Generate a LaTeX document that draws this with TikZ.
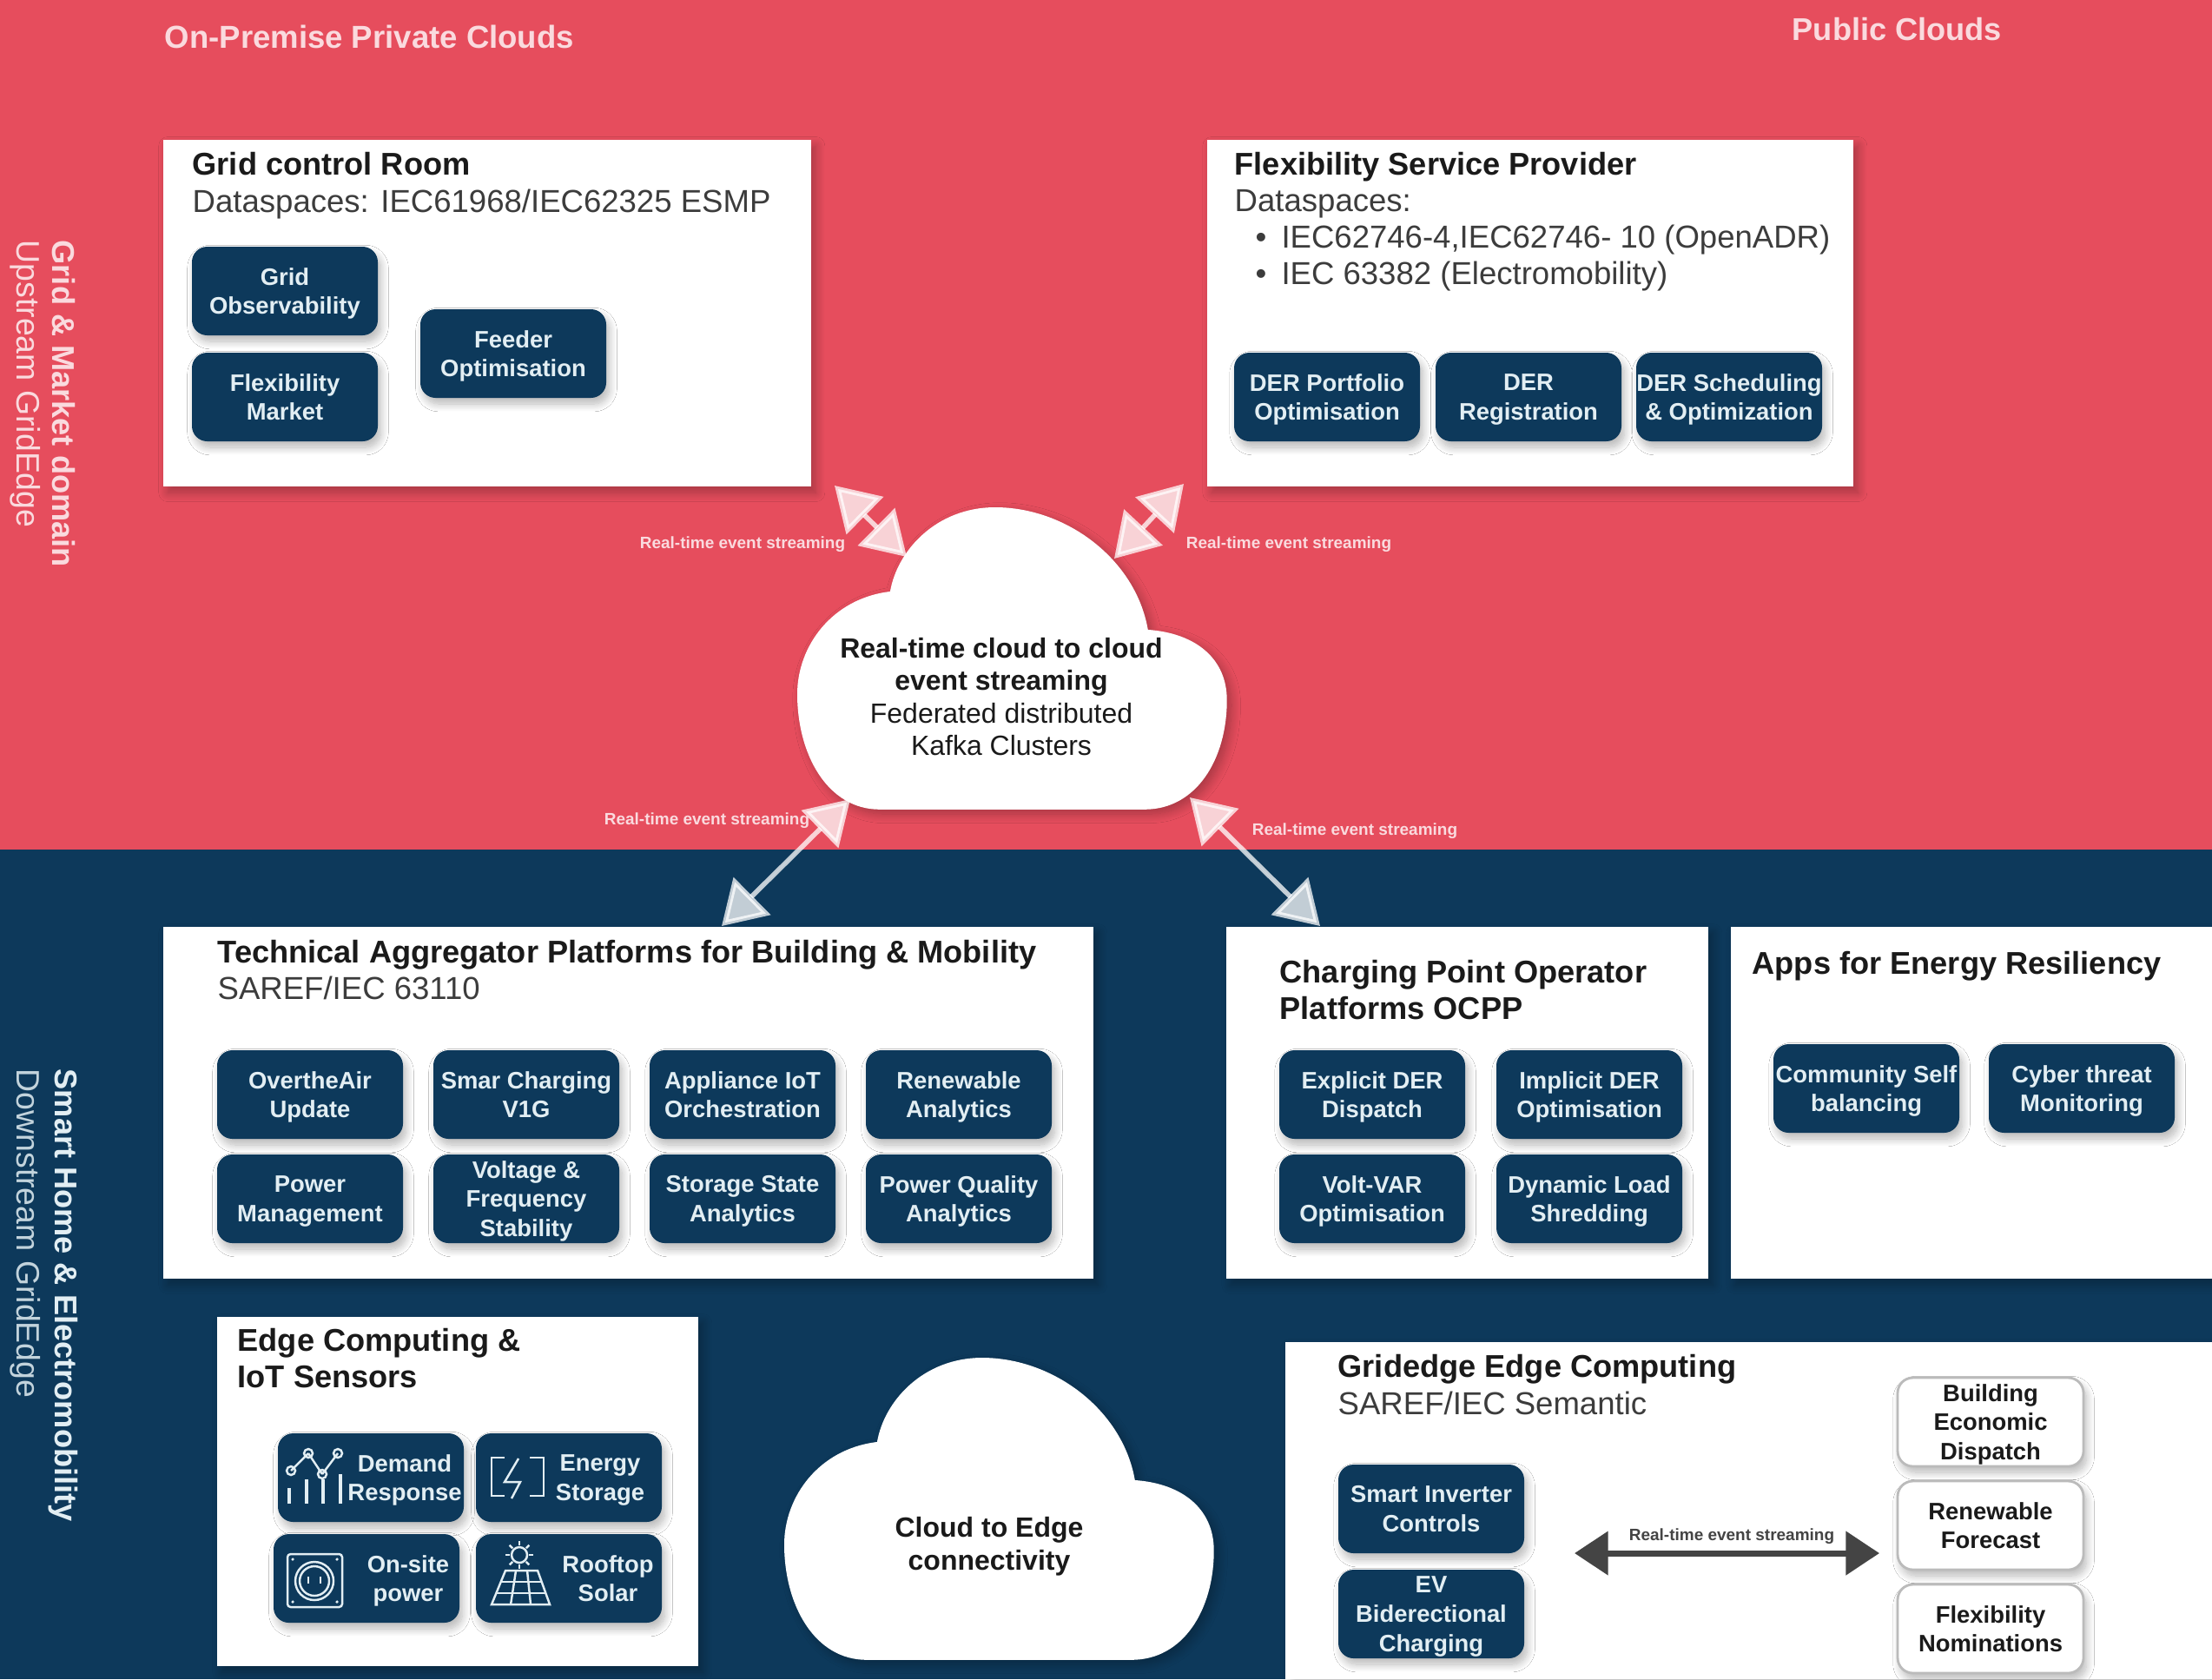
\documentclass[tikz,border=0pt]{standalone}
\usepackage{fontspec}
\setmainfont{Liberation Sans}
\setsansfont{Liberation Sans}
\usepackage{xcolor}
\usepackage{tikz}
\usetikzlibrary{positioning,arrows.meta,calc,shadows.blur}
\definecolor{red1}{HTML}{E64D5D}
\definecolor{navy1}{HTML}{0D395B}
\definecolor{ink1}{HTML}{1A1A1A}
\definecolor{gray1}{HTML}{3C3C3C}
\definecolor{pale1}{HTML}{E2EEF3}
\definecolor{rose1}{HTML}{FADADE}
\definecolor{arrow1}{HTML}{444444}
\newcommand{\cloudfill}[2]{%
  \fill[white, shift={(#1,#2)}, x=0.01cm, y=-0.01cm,
        blur shadow={shadow blur steps=12, shadow xshift=1.5pt,
        shadow yshift=-1.5pt, shadow blur radius=3pt, shadow opacity=28}]
    (95,348) -- (400,348)
    .. controls (460,348) and (495,290) .. (495,222)
    .. controls (495,175) and (460,145) .. (404,141)
    .. controls (390,60) and (310,0) .. (228,0)
    .. controls (160,0) and (115,50) .. (107,97)
    .. controls (40,105) and (0,160) .. (0,215)
    .. controls (0,285) and (35,348) .. (95,348) -- cycle;}

\begin{document}
\begin{tikzpicture}[
    panel/.style={fill=white, anchor=north west, outer sep=0pt,
                  blur shadow={shadow blur steps=12, shadow xshift=1.5pt,
                  shadow yshift=-2pt, shadow blur radius=3pt, shadow opacity=28}},
    comp/.style={fill=navy1, text=pale1, rounded corners=5pt, outer sep=0pt,
                 inner sep=0pt, minimum width=2.14cm, minimum height=1.02cm,
                 align=center, text depth=0pt,
                 font=\sffamily\bfseries\fontsize{7.8}{9.6}\selectfont,
                 blur shadow={shadow blur steps=12, shadow xshift=1pt,
                 shadow yshift=-2pt, shadow blur radius=2.5pt, shadow opacity=28}},
    ghost/.style={comp, fill=white, text=ink1, draw=gray1!35, line width=0.8pt},
    compfree/.style={text=pale1, align=center, inner sep=0pt, text depth=0pt,
                 font=\sffamily\bfseries\fontsize{7.8}{9.6}\selectfont},
    heading/.style={anchor=west, inner sep=0pt, align=left, text=ink1, text depth=0pt,
                    font=\sffamily\bfseries\fontsize{10.3}{12}\selectfont},
    subhead/.style={anchor=west, inner sep=0pt, align=left, text=gray1, text depth=0pt,
                    font=\sffamily\fontsize{10.4}{12}\selectfont},
    band/.style={rotate=-90, anchor=west, inner sep=0pt,
                 font=\sffamily\bfseries\fontsize{10.3}{12}\selectfont},
    bandsub/.style={band, font=\sffamily\fontsize{10.65}{12}\selectfont},
    cloudtext/.style={align=center, inner sep=0pt, text=ink1,
                 font=\sffamily\fontsize{9.1}{10.7}\selectfont},
    tag/.style={inner sep=0pt, text=rose1,
                font=\sffamily\bfseries\fontsize{5.4}{6}\selectfont},
    stream/.style={{Triangle[length=14pt,width=17pt]}-{Triangle[length=14pt,width=17pt]},
                   line width=1.6pt, draw=white, fill=white, opacity=0.75},
    icon/.style={draw=pale1, line width=0.7pt},
]
\useasboundingbox (0,0) rectangle (25.47,-19.33);

% ── backgrounds ──
\fill[red1] (0,0) rectangle (25.47,-9.78);
\fill[navy1] (0,-9.78) rectangle (25.47,-19.33);

% ── band titles ──
\node[band, text=rose1] (gridband) at (0.73,-2.76) {Grid \& Market domain};
\node[bandsub, text=rose1] (upband) at (0.29,-2.76) {Upstream GridEdge};
\node[band, text=pale1] (homeband) at (0.73,-12.30) {Smart Home \& Electromobility};
\node[bandsub, text=pale1!85!navy1] (downband) at (0.29,-12.30) {Downstream GridEdge};
\node[heading, text=rose1, font=\sffamily\bfseries\fontsize{10.4}{12}\selectfont] (onprem) at (1.89,-0.42) {On-Premise Private Clouds};
\node[heading, text=rose1] (public) at (20.63,-0.33) {Public Clouds};

% ── Grid control room ──
\node[panel, minimum width=7.46cm, minimum height=3.99cm] (room) at (1.88,-1.61) {};
\node[heading] (roomtitle) at ([xshift=0.33cm,yshift=-0.27cm]room.north west) {Grid control Room};
\node[subhead] (roomsub) at ([xshift=0.33cm,yshift=-0.70cm]room.north west)
    {Dataspaces: IEC61968/IEC62325 ESMP};
\node[comp, anchor=north west] (gridobs) at ([xshift=0.33cm,yshift=-1.23cm]room.north west)
    {Grid\\Observability};
\node[comp, below=0.2cm of gridobs] (flexmkt) {Flexibility\\Market};
\node[comp, anchor=north west] (feeder) at ([xshift=2.96cm,yshift=-1.95cm]room.north west)
    {Feeder\\Optimisation};

% ── Flexibility service provider ──
\node[panel, minimum width=7.44cm, minimum height=3.99cm] (fsp) at (13.90,-1.61) {};
\node[heading] (fsptitle) at ([xshift=0.31cm,yshift=-0.27cm]fsp.north west) {Flexibility Service Provider};
\node[subhead] (fspsub) at ([xshift=0.31cm,yshift=-1.12cm]fsp.north west)
    {Dataspaces:\\
     \hspace*{0.24cm}•\hspace*{0.17cm}IEC62746-4,IEC62746- 10 (OpenADR)\\
     \hspace*{0.24cm}•\hspace*{0.17cm}IEC 63382 (Electromobility)};
\node[comp, anchor=north west] (derport) at ([xshift=0.31cm,yshift=-2.45cm]fsp.north west)
    {DER Portfolio\\Optimisation};
\node[comp, right=0.18cm of derport] (derreg) {DER\\Registration};
\node[comp, right=0.17cm of derreg] (dersched) {DER Scheduling\\\& Optimization};

% ── Real-time cloud ──
\cloudfill{9.18}{-5.84}
\node[cloudtext] (cloudtop) at (11.53,-8.02)
    {\textbf{Real-time cloud to cloud}\\\textbf{event streaming}\\Federated distributed\\Kafka Clusters};

% ── Technical aggregator ──
\node[panel, minimum width=10.71cm, minimum height=4.05cm] (tech) at (1.88,-10.67) {};
\node[heading] (techtitle) at ([xshift=0.62cm,yshift=-0.28cm]tech.north west)
    {Technical Aggregator Platforms for Building \& Mobility};
\node[subhead] (techsub) at ([xshift=0.62cm,yshift=-0.70cm]tech.north west) {SAREF/IEC 63110};
\node[comp, anchor=north west] (ota) at ([xshift=0.62cm,yshift=-1.42cm]tech.north west)
    {OvertheAir\\Update};
\node[comp, right=0.35cm of ota] (smartchg) {Smar Charging\\V1G};
\node[comp, right=0.35cm of smartchg] (appiot) {Appliance IoT\\Orchestration};
\node[comp, right=0.35cm of appiot] (renew) {Renewable\\Analytics};
\node[comp, below=0.18cm of ota] (power) {Power\\Management};
\node[comp, below=0.18cm of smartchg] (voltage) {Voltage \&\\Frequency\\Stability};
\node[comp, below=0.18cm of appiot] (storage) {Storage State\\Analytics};
\node[comp, below=0.18cm of renew] (quality) {Power Quality\\Analytics};

% ── Charging point operator ──
\node[panel, minimum width=5.55cm, minimum height=4.05cm] (cpo) at (14.12,-10.67) {};
\node[heading] (cpotitle) at ([xshift=0.61cm,yshift=-0.72cm]cpo.north west)
    {Charging Point Operator\\Platforms OCPP};
\node[comp, anchor=north west] (explicit) at ([xshift=0.61cm,yshift=-1.42cm]cpo.north west)
    {Explicit DER\\Dispatch};
\node[comp, right=0.36cm of explicit] (implicit) {Implicit DER\\Optimisation};
\node[comp, below=0.18cm of explicit] (voltvar) {Volt-VAR\\Optimisation};
\node[comp, below=0.18cm of implicit] (shred) {Dynamic Load\\Shredding};

% ── Energy resiliency apps ──
\node[panel, minimum width=5.54cm, minimum height=4.05cm] (apps) at (19.93,-10.67) {};
\node[heading] (appstitle) at ([xshift=0.24cm,yshift=-0.41cm]apps.north west)
    {Apps for Energy Resiliency};
\node[comp, anchor=north west] (selfbal) at ([xshift=0.49cm,yshift=-1.35cm]apps.north west)
    {Community Self\\balancing};
\node[comp, right=0.34cm of selfbal] (cyber) {Cyber threat\\Monitoring};

% ── Edge computing ──
\node[panel, minimum width=5.54cm, minimum height=4.02cm] (edge) at (2.50,-15.16) {};
\node[heading] (edgetitle) at ([xshift=0.23cm,yshift=-0.47cm]edge.north west)
    {Edge Computing \&\\IoT Sensors};
\node[comp, anchor=north west] (demand) at ([xshift=0.70cm,yshift=-1.34cm]edge.north west) {};
\node[comp, right=0.14cm of demand] (energy) {};
\node[comp, anchor=north west] (onsite) at ([xshift=0.65cm,yshift=-2.50cm]edge.north west) {};
\node[comp, anchor=west] (rooftop) at (energy.west |- onsite.west) {};
\node[compfree] (demandtxt) at ([xshift=0.39cm]demand.center) {Demand\\Response};
\node[compfree] (energytxt) at ([xshift=0.36cm]energy.center) {Energy\\Storage};
\node[compfree] (onsitetxt) at ([xshift=0.48cm]onsite.center) {On-site\\power};
\node[compfree] (rooftoptxt) at ([xshift=0.45cm]rooftop.center) {Rooftop\\Solar};

% icons
\begin{scope}[shift={(demand.center)}, x=0.01cm, y=-0.01cm]
  \draw[icon] (-92,-8) circle (5) -- (-72,-28) circle (5) -- (-56,-4) circle (5) -- (-38,-28) circle (5);
  \foreach \xb/\yb in {-94/12,-74/2,-55/2,-35/-4}
    \draw[icon, line width=1pt] (\xb,30) -- (\xb,\yb);
\end{scope}
\begin{scope}[shift={(energy.center)}, x=0.01cm, y=-0.01cm]
  \draw[icon] (-74,-23) -- (-89,-23) -- (-89,21) -- (-74,21);
  \draw[icon] (-45,-23) -- (-29,-23) -- (-29,21) -- (-45,21);
  \draw[icon] (-58,-22) -- (-74,5) -- (-56,5) -- (-66,24);
\end{scope}
\begin{scope}[shift={(onsite.center)}, x=0.01cm, y=-0.01cm]
  \draw[icon, rounded corners=1pt] (-91,-28) rectangle (-28,33);
  \draw[icon] (-60,3) circle (22);
  \draw[icon] (-60,3) circle (17);
  \foreach \xb in {-67,-53} \draw[icon] (\xb,-2) -- (\xb,6);
  \foreach \xb/\yb in {-85/-22,-34/-22,-85/27,-34/27} \fill[pale1] (\xb,\yb) circle (1.8);
\end{scope}
\begin{scope}[shift={(rooftop.center)}, x=0.01cm, y=-0.01cm]
  \draw[icon] (-57,-27) circle (9);
  \foreach \ang in {0,45,...,315}
    \draw[icon] ($(-57,-27)+(\ang:11)$) -- ($(-57,-27)+(\ang:16)$);
  \draw[icon] (-73,-9) -- (-36,-9) -- (-22,30) -- (-89,30) -- cycle;
  \draw[icon] (-78,4) -- (-31,4);
  \draw[icon] (-83,17) -- (-26,17);
  \draw[icon] (-61,-9) -- (-67,30);
  \draw[icon] (-48,-9) -- (-44,30);
\end{scope}

% ── Cloud to edge ──
\cloudfill{9.03}{-15.63}
\node[cloudtext, font=\sffamily\bfseries\fontsize{9.1}{10.7}\selectfont] (cloudedge) at (11.39,-17.80)
    {Cloud to Edge\\connectivity};

% ── Gridedge edge computing ──
\node[panel, minimum width=10.67cm, minimum height=3.88cm] (gridedge) at (14.80,-15.45) {};
\node[heading] (getitle) at ([xshift=0.60cm,yshift=-0.27cm]gridedge.north west)
    {Gridedge Edge Computing};
\node[subhead] (gesub) at ([xshift=0.60cm,yshift=-0.70cm]gridedge.north west) {SAREF/IEC Semantic};
\node[comp, anchor=north west] (inverter) at ([xshift=0.61cm,yshift=-1.41cm]gridedge.north west)
    {Smart Inverter\\Controls};
\node[comp, below=0.19cm of inverter] (evbi) {EV\\Biderectional\\Charging};
\node[ghost, anchor=north west] (dispatch) at ([xshift=7.05cm,yshift=-0.41cm]gridedge.north west)
    {Building\\Economic\\Dispatch};
\node[ghost, below=0.17cm of dispatch] (forecast) {Renewable\\Forecast};
\node[ghost, below=0.17cm of forecast] (flexnom) {Flexibility\\Nominations};

% ── Streams ──
\coordinate (roomtip) at ($(room.south east)+(0.27,0.01)$);
\coordinate (fsptip) at ($(fsp.south west)+(-0.27,0.03)$);
\coordinate (cloudnw) at (10.44,-6.41);
\coordinate (cloudne) at (12.83,-6.43);
\coordinate (cloudsw) at (9.79,-9.20);
\coordinate (cloudse) at (13.70,-9.18);
\coordinate (techtip) at ($(tech.north east)+(-4.28,0.01)$);
\coordinate (cpotip) at ($(cpo.north west)+(1.08,0.01)$);
\draw[stream] (roomtip) -- (cloudnw);
\draw[stream] (fsptip) -- (cloudne);
\draw[stream] (cloudsw) -- (techtip);
\draw[stream] (cloudse) -- (cpotip);
\node[tag] (tagnw) at (8.55,-6.27) {Real-time event streaming};
\node[tag] (tagne) at (14.84,-6.27) {Real-time event streaming};
\node[tag] (tagsw) at (8.14,-9.45) {Real-time event streaming};
\node[tag] (tagse) at (15.60,-9.57) {Real-time event streaming};

% ── Edge stream ──
\coordinate (evleft) at ($(inverter.south east)+(0.58,0)$);
\coordinate (evright) at ($(forecast.west |- inverter.south)+(-0.21,0)$);
\draw[{Triangle[length=11pt,width=14pt]}-{Triangle[length=11pt,width=14pt]},
      line width=2pt, draw=arrow1, fill=arrow1] (evleft) -- (evright);
\node[tag, text=arrow1] (tagedge) at (19.94,-17.69) {Real-time event streaming};

\end{tikzpicture}
\end{document}
